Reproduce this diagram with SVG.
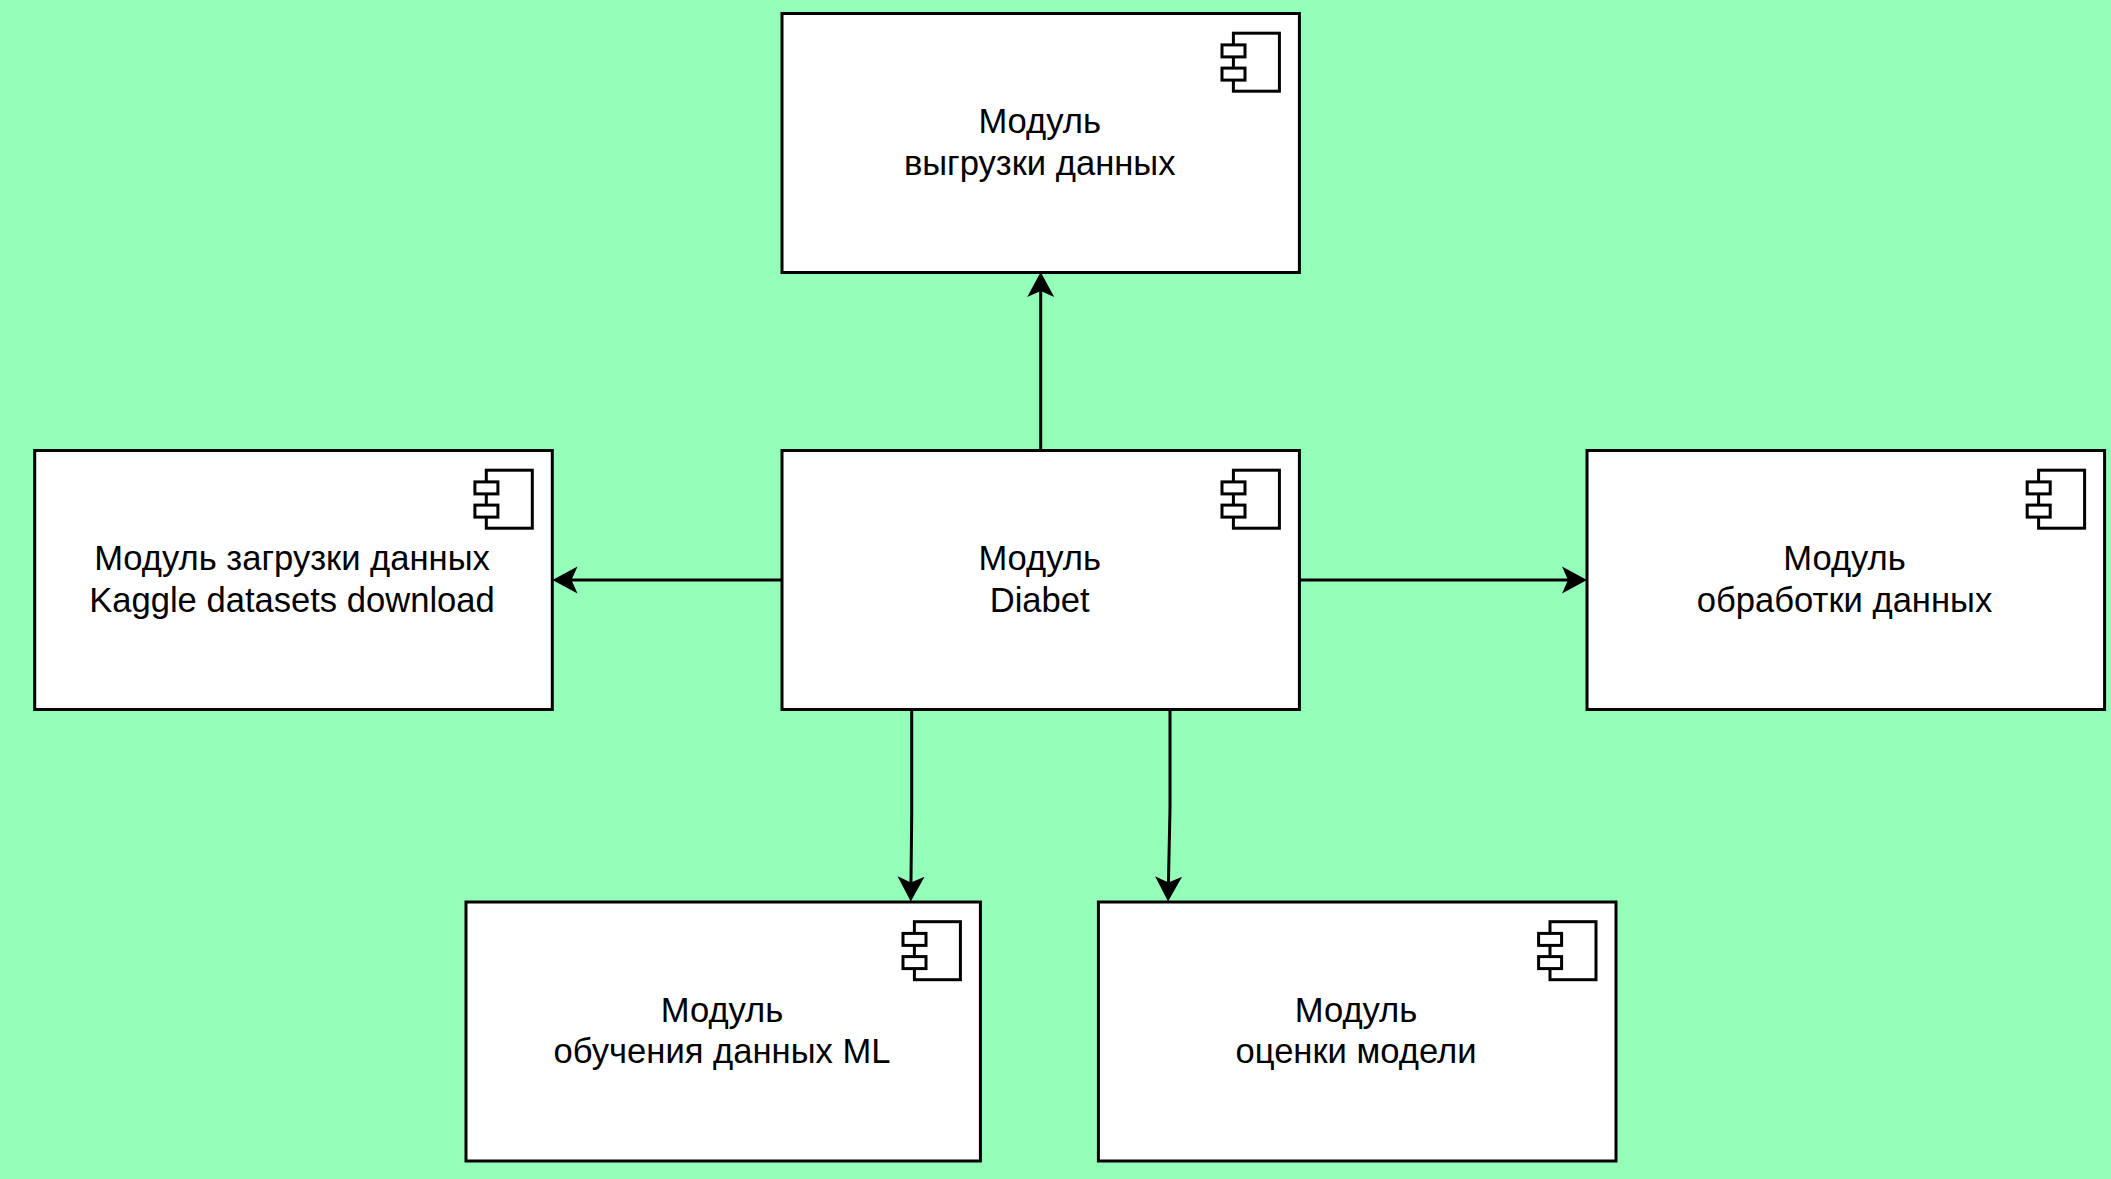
<svg xmlns="http://www.w3.org/2000/svg" width="2111" height="1179" viewBox="0 0 2111 1179">
<style>
.box{fill:#fff;stroke:#000;stroke-width:3}
.ic{fill:#fff;stroke:#000;stroke-width:3}
.t{font-family:"Liberation Sans",Arial,sans-serif;font-size:34.6px;fill:#000;text-anchor:middle}
.c{fill:none;stroke:#000;stroke-width:3}
</style>
<defs>
<marker id="arr" markerUnits="userSpaceOnUse" markerWidth="27" markerHeight="28" refX="13" refY="14" orient="auto">
<path d="M0,0.5 L25,14 L0,27.5 L6,14 Z" fill="#000"/>
</marker>
<g id="icon">
<rect class="ic" x="-66" y="19.7" width="46" height="58"/>
<rect class="ic" x="-77.4" y="31.4" width="23" height="12"/>
<rect class="ic" x="-77.4" y="54.6" width="23" height="12"/>
</g>
</defs>
<rect width="2111" height="1179" fill="#94FFB8"/>
<g id="connectors">
<path class="c" marker-end="url(#arr)" d="M1040.7,450 V284"/>
<path class="c" marker-end="url(#arr)" d="M782,580 H564.5"/>
<path class="c" marker-end="url(#arr)" d="M1299,580 H1575"/>
<path class="c" marker-end="url(#arr)" d="M911.7,709 V805 Q911.7,810 911.7,815 L910.9,889.5"/>
<path class="c" marker-end="url(#arr)" d="M1170,709 V805 Q1170,812 1169.8,818 L1168.3,889.5"/>
</g>
<g id="node-upload">
<rect class="box" x="782" y="13.5" width="517.4" height="259"/>
<use href="#icon" transform="translate(1299.4,13.5)"/>
<text class="t" x="1039.7" y="132.5">Модуль</text>
<text class="t" x="1039.7" y="174.5">выгрузки данных</text>
</g>
<g id="node-load">
<rect class="box" x="34.7" y="450.5" width="517.6" height="259"/>
<use href="#icon" transform="translate(552.3,450.5)"/>
<text class="t" x="292" y="569.5">Модуль загрузки данных</text>
<text class="t" x="292" y="611.5">Kaggle datasets download</text>
</g>
<g id="node-diabet">
<rect class="box" x="782" y="450.5" width="517.4" height="259"/>
<use href="#icon" transform="translate(1299.4,450.5)"/>
<text class="t" x="1039.7" y="569.5">Модуль</text>
<text class="t" x="1039.7" y="611.5">Diabet</text>
</g>
<g id="node-process">
<rect class="box" x="1587" y="450.5" width="517.6" height="259"/>
<use href="#icon" transform="translate(2104.6,450.5)"/>
<text class="t" x="1844.5" y="569.5">Модуль</text>
<text class="t" x="1844.5" y="611.5">обработки данных</text>
</g>
<g id="node-train">
<rect class="box" x="466" y="902" width="514.4" height="259"/>
<use href="#icon" transform="translate(980.4,902)"/>
<text class="t" x="722" y="1021.5">Модуль</text>
<text class="t" x="722" y="1063">обучения данных ML</text>
</g>
<g id="node-eval">
<rect class="box" x="1098.4" y="902" width="517.6" height="259"/>
<use href="#icon" transform="translate(1616,902)"/>
<text class="t" x="1356" y="1021.5">Модуль</text>
<text class="t" x="1356" y="1063">оценки модели</text>
</g>
</svg>
